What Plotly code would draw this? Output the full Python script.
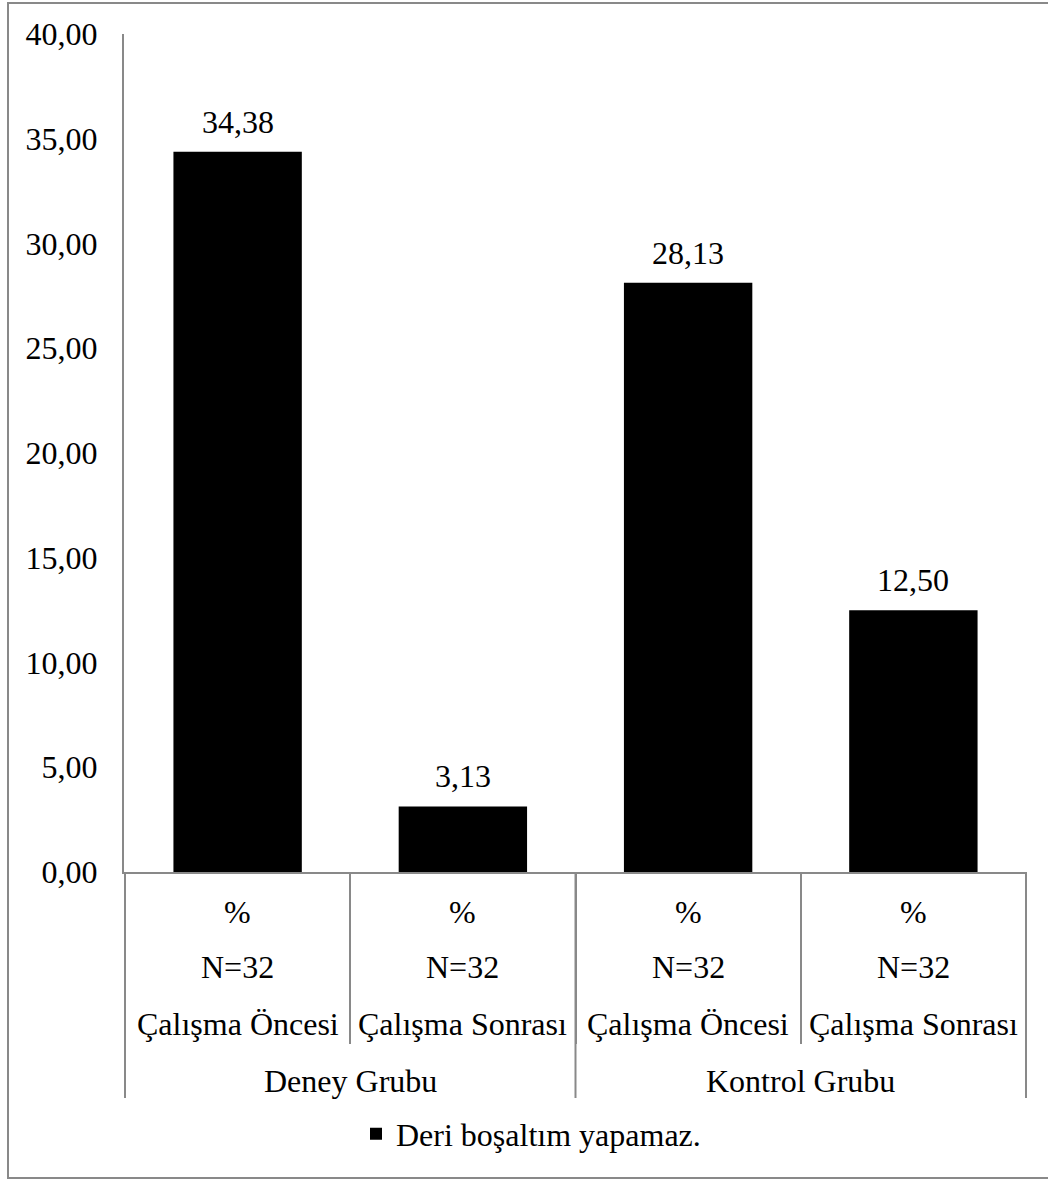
import plotly.graph_objects as go

# Data
groups = ["Deney Grubu", "Deney Grubu", "Kontrol Grubu", "Kontrol Grubu"]
phases = ["Çalışma Öncesi", "Çalışma Sonrası", "Çalışma Öncesi", "Çalışma Sonrası"]
sample_sizes = ["N=32", "N=32", "N=32", "N=32"]
units = ["%", "%", "%", "%"]
values = [34.38, 3.13, 28.13, 12.50]
series_name = "Deri boşaltım yapamaz."

FONT = "Liberation Serif, Times New Roman, serif"
GRAY = "#898989"
W, H = 1048, 1180
L, R, T, B = 124, 21, 34, 308
PW, PH = W - L - R, H - T - B


def py(px):
    """Pixel row (from top of page) -> paper y coordinate."""
    return (H - B - px) / PH


def px_x(px):
    """Pixel column -> paper x coordinate."""
    return (px - L) / PW


keys = [f"{g} | {p}" for g, p in zip(groups, phases)]

fig = go.Figure()
fig.add_trace(go.Bar(
    x=keys, y=values, name=series_name,
    marker=dict(color="#000000", line=dict(width=0)),
    showlegend=True, hoverinfo="skip",
))

annotations = []
# value labels above bars
for i, v in enumerate(values):
    annotations.append(dict(
        x=i, y=v, xref="x", yref="y", text=f"{v:.2f}".replace(".", ","),
        showarrow=False, yanchor="bottom", yshift=10,
        font=dict(family=FONT, size=32, color="#000"),
    ))

# category rows below the axis
rows = [(units, 912), (sample_sizes, 967), (phases, 1024)]
for labels, ypx in rows:
    for i, lab in enumerate(labels):
        annotations.append(dict(
            x=i, y=py(ypx), xref="x", yref="paper", text=lab,
            showarrow=False, yanchor="middle",
            font=dict(family=FONT, size=32, color="#000"),
        ))

# group labels
group_names = []
for g in groups:
    if g not in group_names:
        group_names.append(g)
for gname in group_names:
    idx = [i for i, g in enumerate(groups) if g == gname]
    annotations.append(dict(
        x=sum(idx) / len(idx), y=py(1081), xref="x", yref="paper", text=gname,
        showarrow=False, yanchor="middle",
        font=dict(family=FONT, size=32, color="#000"),
    ))

shapes = []
# group divider lines
bounds = [-0.5]
for i in range(1, len(groups)):
    if groups[i] != groups[i - 1]:
        bounds.append(i - 0.5)
bounds.append(len(groups) - 0.5)
for b in bounds:
    shapes.append(dict(type="line", xref="x", yref="paper", x0=b, x1=b,
                       y0=0, y1=py(1098), line=dict(color=GRAY, width=2)))

# chart border
shapes.append(dict(type="rect", xref="paper", yref="paper",
                   x0=px_x(8), x1=px_x(1052), y0=py(1178), y1=py(3),
                   line=dict(color=GRAY, width=2), fillcolor="rgba(0,0,0,0)",
                   layer="below"))

fig.update_layout(
    width=W, height=H,
    margin=dict(l=L, r=R, t=T, b=B, pad=0),
    paper_bgcolor="white", plot_bgcolor="white",
    separators=",.",
    font=dict(family=FONT, size=32, color="#000"),
    bargap=0.43,
    annotations=annotations,
    shapes=shapes,
    legend=dict(orientation="h", x=px_x(531), xanchor="center",
                y=py(1134), yanchor="middle",
                font=dict(family=FONT, size=32, color="#000"),
                bgcolor="rgba(0,0,0,0)"),
    xaxis=dict(
        type="category", showticklabels=False,
        showline=True, linecolor=GRAY, linewidth=2,
        ticks="outside", tickson="boundaries", ticklen=170,
        tickwidth=2, tickcolor=GRAY, showgrid=False, zeroline=False,
    ),
    yaxis=dict(
        range=[0, 40], dtick=5, tick0=0, tickformat=".2f",
        showline=True, linecolor=GRAY, linewidth=2, ticks="",
        showgrid=False, zeroline=False, ticklabelstandoff=18,
        tickfont=dict(family=FONT, size=32, color="#000"),
    ),
)

fig.write_html("out.html")
